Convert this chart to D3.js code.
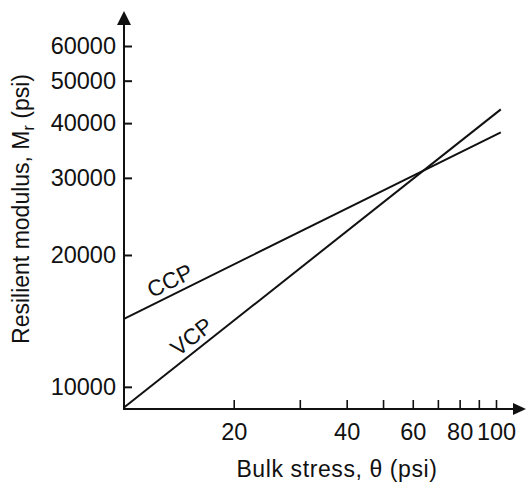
<!DOCTYPE html>
<html>
<head>
<meta charset="utf-8">
<script src="https://cdn.jsdelivr.net/npm/d3@7"></script>
<style>
  html, body { margin: 0; padding: 0; background: #fff; }
  svg { display: block; }
  text { font-family: "Liberation Sans", Arial, Helvetica, sans-serif; fill: #111; }
</style>
</head>
<body>
<svg id="chart" width="526" height="482"></svg>
<script>
// Resilient modulus vs bulk stress, log-log, for the two confining-pressure tests
const seriesNames = ["CCP", "VCP"];
const bulkStress = [10.2, 103];            // psi, line end points
const ccpModulus = [14300, 38100];         // psi
const vcpModulus = [8970, 43000];          // psi
const xTickValues = [20, 30, 40, 50, 60, 70, 80, 90, 100];
const xTickLabels = [20, 40, 60, 80, 100];
const yTickValues = [10000, 20000, 30000, 40000, 50000, 60000];

const svg = d3.select("#chart");
const ink = "#111";
const font = "Liberation Sans, Arial, sans-serif";

const x = d3.scaleLog().domain([10.2, 100]).range([124, 496]);
const y = d3.scaleLog().domain([8900, 60000]).range([409, 46]);

const x0 = x(bulkStress[0]);
const yBase = y(8900);

// axis lines with arrow heads
svg.append("line").attr("x1", x0).attr("y1", yBase).attr("x2", x0).attr("y2", 22)
  .attr("stroke", ink).attr("stroke-width", 2);
svg.append("line").attr("x1", x0 - 1).attr("y1", yBase).attr("x2", 516).attr("y2", yBase)
  .attr("stroke", ink).attr("stroke-width", 2);
svg.append("path").attr("d", `M${x0},11 L${x0 - 7},25 L${x0 + 7},25 Z`).attr("fill", ink);
svg.append("path").attr("d", `M526,${yBase} L513,${yBase - 6} L513,${yBase + 6} Z`).attr("fill", ink);

// y axis ticks and labels
const yAxis = d3.axisLeft(y)
  .tickValues(yTickValues)
  .tickSize(-8)
  .tickPadding(8)
  .tickFormat(d3.format("d"));
const gy = svg.append("g").attr("transform", `translate(${x0},0)`).call(yAxis);
gy.select(".domain").remove();
gy.selectAll(".tick line").attr("stroke", ink).attr("stroke-width", 2);
gy.selectAll(".tick text").attr("font-size", 23.5).style("font-family", font).attr("fill", ink);

// x axis ticks and labels
const xAxis = d3.axisBottom(x)
  .tickValues(xTickValues)
  .tickSize(-9)
  .tickPadding(14)
  .tickFormat(d => xTickLabels.includes(d) ? d : "");
const gx = svg.append("g").attr("transform", `translate(0,${yBase})`).call(xAxis);
gx.select(".domain").remove();
gx.selectAll(".tick line").attr("stroke", ink).attr("stroke-width", 1.6);
gx.selectAll(".tick text").attr("font-size", 23.5).style("font-family", font).attr("fill", ink);

// the two fitted lines
const line = d3.line().x(d => x(d[0])).y(d => y(d[1]));
const series = [
  { name: seriesNames[0], pts: bulkStress.map((b, i) => [b, ccpModulus[i]]) },
  { name: seriesNames[1], pts: bulkStress.map((b, i) => [b, vcpModulus[i]]) }
];
svg.selectAll("path.series").data(series).join("path")
  .attr("class", "series")
  .attr("d", d => line(d.pts))
  .attr("fill", "none").attr("stroke", ink).attr("stroke-width", 2);

// labels sitting on each line
function labelOnLine(s, atX, offset) {
  const [p0, p1] = s.pts;
  const ax = x(p0[0]), ay = y(p0[1]), bx = x(p1[0]), by = y(p1[1]);
  const ang = Math.atan2(by - ay, bx - ax);
  const t = (atX - ax) / (bx - ax);
  const cx = ax + t * (bx - ax), cy = ay + t * (by - ay);
  svg.append("text")
    .attr("transform", `translate(${cx},${cy}) rotate(${ang * 180 / Math.PI}) translate(0,${-offset})`)
    .attr("text-anchor", "middle")
    .attr("font-size", 22.5)
    .text(s.name);
}
labelOnLine(series[0], 176, 6);
labelOnLine(series[1], 200, 6);

// axis titles
svg.append("text")
  .attr("x", 337).attr("y", 477)
  .attr("text-anchor", "middle")
  .attr("font-size", 23)
  .attr("letter-spacing", 0.6)
  .text("Bulk stress, θ (psi)");

const yt = svg.append("text")
  .attr("transform", "translate(29,209) rotate(-90)")
  .attr("text-anchor", "middle")
  .attr("font-size", 23);
yt.append("tspan").text("Resilient modulus, M");
yt.append("tspan").attr("font-size", 16).attr("dy", 5).text("r");
yt.append("tspan").attr("dy", -5).text(" (psi)");
</script>
</body>
</html>
